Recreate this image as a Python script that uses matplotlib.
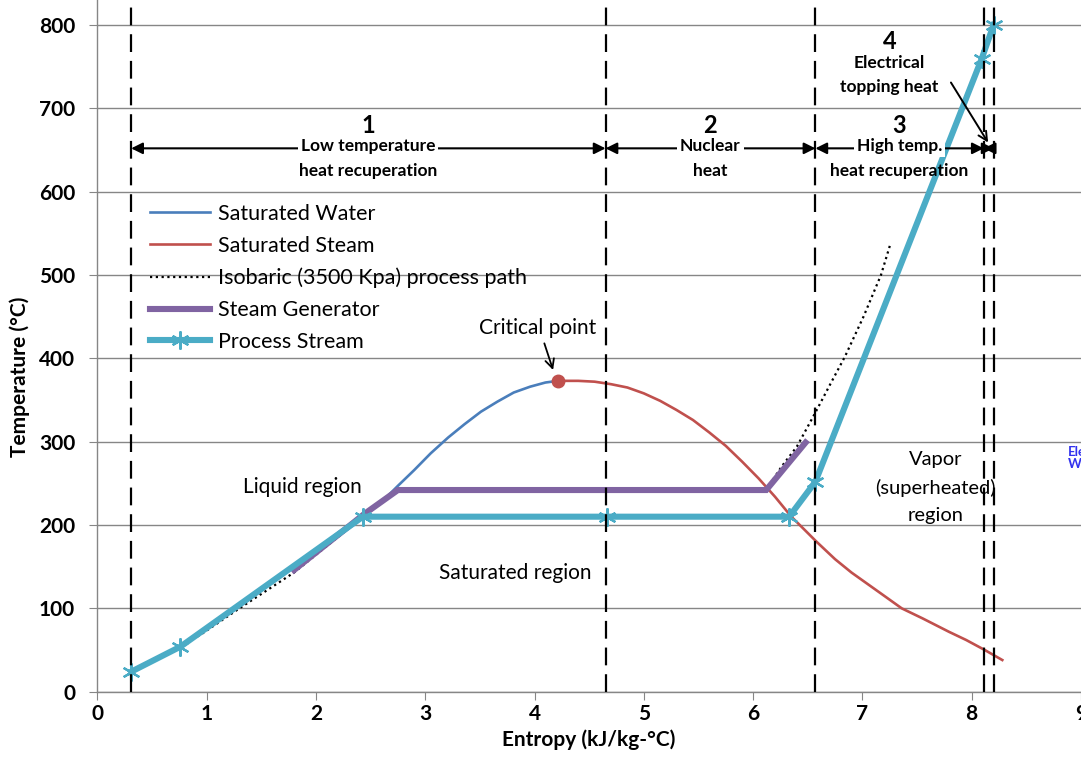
import matplotlib
matplotlib.use('Agg')
import matplotlib.pyplot as plt

# ---------------- data ----------------
sat_water_s = [0.31, 0.76, 1.31, 1.84, 2.33, 2.59, 2.75, 2.90, 3.05, 3.21, 3.36, 3.51, 3.66,
               3.81, 3.96, 4.10, 4.215]
sat_water_T = [24, 54, 103, 155, 200, 226, 247, 266, 286, 305, 321, 336, 348,
               359, 366, 371, 373]

sat_steam_s = [4.215, 4.40, 4.55, 4.70, 4.85, 5.00, 5.15, 5.30, 5.45, 5.60, 5.75, 5.90, 6.05,
               6.20, 6.35, 6.45, 6.58, 6.75, 6.90, 7.05, 7.20, 7.36, 7.55, 7.79, 7.95, 8.12, 8.28]
sat_steam_T = [373, 373, 372, 369, 365, 358, 349, 338, 326, 311, 295, 276, 256,
               234, 210, 197, 180, 159, 143, 129, 115, 100, 88, 72, 62, 50, 38]

isobaric_s = [0.31, 0.94, 1.30, 1.80, 2.44, 2.75, 6.12, 6.26, 6.40, 6.57, 6.71, 6.84, 7.01, 7.17, 7.26]
isobaric_T = [23, 68, 100, 143, 211, 242, 242, 270, 294, 335, 370, 402, 450, 500, 539]

steam_gen_s = [1.80, 2.44, 2.75, 6.12, 6.48]
steam_gen_T = [146, 213, 242, 242, 299]

process_s = [0.31, 0.76, 2.43, 4.66, 6.33, 6.57, 8.09, 8.20]
process_T = [24, 54, 210, 210, 210, 252, 759, 800]

critical_s = [4.215]
critical_T = [373]

boundaries = [0.31, 4.65, 6.57, 8.11, 8.20]
region_numbers = ["1", "2", "3", "4"]
region_texts = ["Low temperature\nheat recuperation", "Nuclear\nheat",
                "High temp.\nheat recuperation", "Electrical\ntopping heat"]

x_ticks = list(range(0, 10))
y_ticks = list(range(0, 801, 100))

# ---------------- style ----------------
plt.rcParams['font.family'] = ['Lato', 'DejaVu Sans']
C_BLUE = '#4A7EBB'
C_RED = '#C0504D'
C_PURPLE = '#8064A2'
C_CYAN = '#4BACC6'
C_GRID = '#868686'

W, H = 1081, 764
fig = plt.figure(figsize=(W / 100, H / 100), dpi=100)
ax = fig.add_axes([97.3 / W, 72.3 / H, (W - 97.3) / W, 691.7 / H])
ax.set_xlim(0, 9)
ax.set_ylim(0, 830)
ax.set_xticks(x_ticks)
ax.set_yticks(y_ticks)
ax.grid(axis='y', color=C_GRID, lw=1)
ax.set_axisbelow(True)
for sp in ['top', 'right']:
    ax.spines[sp].set_visible(False)
for sp in ['left', 'bottom']:
    ax.spines[sp].set_color(C_GRID)
    ax.spines[sp].set_linewidth(1)
ax.tick_params(axis='both', direction='out', length=6, color=C_GRID, labelsize=15)
ax.tick_params(axis='y', pad=10)
ax.tick_params(axis='x', pad=3)
for lbl in ax.get_xticklabels() + ax.get_yticklabels():
    lbl.set_fontweight('bold')

ax.set_xlabel('Entropy (kJ/kg-°C)', fontsize=15, fontweight='bold', labelpad=4)
ax.set_ylabel('Temperature (°C)', fontsize=15, fontweight='bold', labelpad=6)
ax.yaxis.set_label_coords(-0.068, 0.455)

# ---------------- curves ----------------
ax.plot(sat_water_s, sat_water_T, color=C_BLUE, lw=1.9, label='Saturated Water', zorder=3)
ax.plot(sat_steam_s, sat_steam_T, color=C_RED, lw=1.9, label='Saturated Steam', zorder=3)
ax.plot(isobaric_s, isobaric_T, color='black', lw=1.6, ls=(0, (1, 1.6)),
        label='Isobaric (3500 Kpa) process path', zorder=3)
ax.plot(steam_gen_s, steam_gen_T, color=C_PURPLE, lw=4.4, label='Steam Generator', zorder=4,
        solid_joinstyle='miter')
ax.plot(process_s, process_T, color=C_CYAN, lw=4.4, marker=(6, 2, 0), markersize=13,
        markeredgewidth=1.6, markeredgecolor=C_CYAN, label='Process Stream', zorder=5)
ax.plot(critical_s, critical_T, 'o', color=C_RED, markersize=9, zorder=6)

# dashed boundaries
ax.vlines(boundaries, 0, 823, colors='black', lw=1.6, linestyles=[(0, (8, 4))], zorder=7,
          clip_on=False)

# region arrows
arrow_T = 652
for i in range(4):
    ax.annotate('', xy=(boundaries[i + 1], arrow_T), xytext=(boundaries[i], arrow_T),
                arrowprops=dict(arrowstyle='<|-|>', color='black', lw=1.5,
                                mutation_scale=17, shrinkA=0, shrinkB=0), zorder=8)

mid = [(boundaries[i] + boundaries[i + 1]) / 2 for i in range(3)]
for i in range(3):
    ax.text(mid[i], 679, region_numbers[i], ha='center', va='center', fontsize=17,
            fontweight='bold', zorder=9)
    first, second = region_texts[i].split('\n')
    ax.text(mid[i], 655, first, ha='center', va='center', fontsize=12.5,
            fontweight='bold', zorder=9,
            bbox=dict(facecolor='white', edgecolor='none', pad=2))
    ax.text(mid[i], 625, second, ha='center', va='center', fontsize=12.5,
            fontweight='bold', zorder=9)

# region 4 labels
ax.text(7.25, 780, region_numbers[3], ha='center', va='center', fontsize=17,
        fontweight='bold', zorder=9)
ax.text(7.245, 740, region_texts[3], ha='center', va='center', fontsize=12.5,
        fontweight='bold', zorder=9, linespacing=1.6)
ax.annotate('', xy=(8.15, 659), xytext=(7.81, 731),
            arrowprops=dict(arrowstyle='->', color='black', lw=1.4, mutation_scale=16,
                            shrinkA=0, shrinkB=0), zorder=9)

# critical point
ax.text(4.03, 437, 'Critical point', ha='center', va='center', fontsize=15, zorder=9)
ax.annotate('', xy=(4.17, 386), xytext=(4.09, 418),
            arrowprops=dict(arrowstyle='->', color='black', lw=1.3, mutation_scale=16,
                            shrinkA=0, shrinkB=0), zorder=9)

# region texts
ax.text(1.88, 246, 'Liquid region', ha='center', va='center', fontsize=15, zorder=9)
ax.text(3.82, 143, 'Saturated region', ha='center', va='center', fontsize=15, zorder=9)
ax.text(7.67, 245, 'Vapor\n(superheated)\nregion', ha='center', va='center', fontsize=14.5,
        zorder=9, linespacing=1.75)

# cut-off blue text at right edge
ax.text(8.88, 281, 'Electrical\nWork', ha='left', va='center', fontsize=9.5,
        fontweight='bold', color='#3333EE', clip_on=False, linespacing=1.0)

# legend
leg = ax.legend(loc='upper left', frameon=False, fontsize=15.5, handlelength=2.8,
                handletextpad=0.37, labelspacing=0.55, borderaxespad=0, borderpad=0)
leg.set_bbox_to_anchor(((150 - 97.3) / (W - 97.3), (691.7 - 204) / 691.7), transform=ax.transAxes)

fig.savefig('out.png', dpi=100)
